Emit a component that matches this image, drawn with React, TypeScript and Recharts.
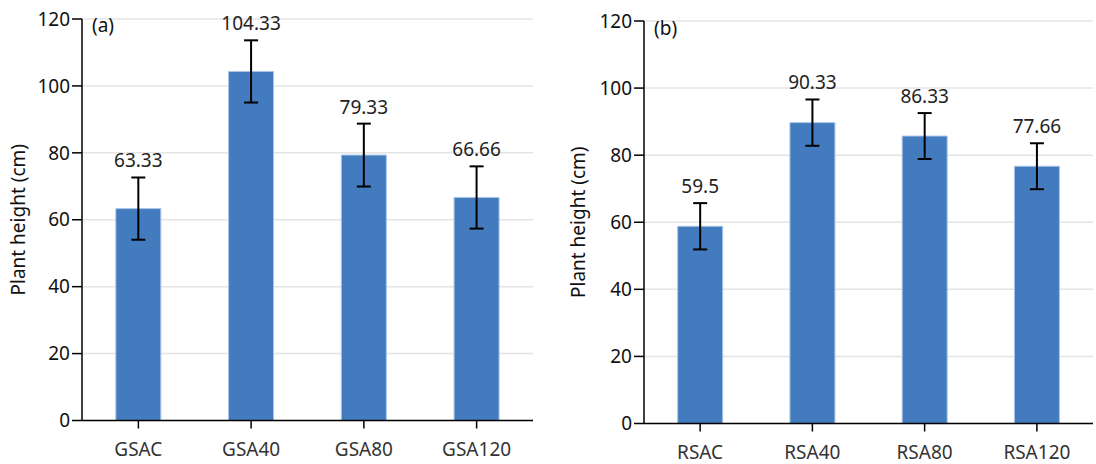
import React from 'react';
import { BarChart, Bar, XAxis, YAxis, CartesianGrid, ErrorBar, LabelList } from 'recharts';

const catsA = ['GSAC', 'GSA40', 'GSA80', 'GSA120'];
const valsA = [63.33, 104.33, 79.33, 66.66];
const errA = [9.3, 9.3, 9.4, 9.3];
const labelsA = ['63.33', '104.33', '79.33', '66.66'];

const catsB = ['RSAC', 'RSA40', 'RSA80', 'RSA120'];
const valsB = [58.8, 89.7, 85.7, 76.7];
const errB = [6.9, 6.9, 6.85, 6.85];
const labelsB = ['59.5', '90.33', '86.33', '77.66'];

const yTicks = [0, 20, 40, 60, 80, 100, 120];

const FONT = '"Noto Sans", "Open Sans", sans-serif';
const BAR = '#427cbf';
const FS = 19;

const build = (cats: string[], vals: number[], errs: number[], labels: string[]) =>
  cats.map((c, i) => ({ name: c, value: vals[i], err: errs[i], label: labels[i] }));

const dataA = build(catsA, valsA, errA, labelsA);
const dataB = build(catsB, valsB, errB, labelsB);

function makeLabel(data: any[]) {
  return (props: any) => {
    const { x, y, width, height, index } = props;
    const d = data[index];
    const ppu = height / d.value;
    const top = y - d.err * ppu;
    return (
      <text x={x + width / 2} y={top - 10} textAnchor="middle" fontSize={FS} fontFamily={FONT} fill="#222">
        {d.label}
      </text>
    );
  };
}

function Panel(props: { data: any[]; tag: string; left: number; yW: number; top: number; bottom: number; right: number; titleDx: number; tagX: number; tagY: number }) {
  const { data, tag, left, yW, top, bottom, right, titleDx, tagX, tagY } = props;
  return (
    <div style={{ position: 'absolute', left, top: 0 }}>
      <BarChart width={548} height={464} data={data} margin={{ top, right, bottom, left: 0 }} barCategoryGap="30%">
        <CartesianGrid vertical={false} stroke="#e4e4e4" strokeWidth={1.5} />
        <XAxis
          dataKey="name"
          height={30}
          axisLine={{ stroke: '#000', strokeWidth: 1.5 }}
          tickLine={{ stroke: '#000', strokeWidth: 1.5 }}
          tickSize={8}
          tick={{ fontSize: FS, fontFamily: FONT, fill: '#333', dy: 12 }}
        />
        <YAxis
          width={yW}
          domain={[0, 120]}
          ticks={yTicks}
          interval={0}
          axisLine={{ stroke: '#000', strokeWidth: 1.5 }}
          tickLine={{ stroke: '#000', strokeWidth: 1.5 }}
          tickSize={10}
          tick={{ fontSize: FS, fontFamily: FONT, fill: '#111' }}
          label={{ value: 'Plant height (cm)', angle: -90, position: 'center', dx: titleDx, style: { fontSize: FS, fontFamily: FONT, fill: '#111' } }}
        />
        <Bar dataKey="value" fill={BAR} stroke="#a9c4e6" strokeWidth={1} isAnimationActive={false}>
          <ErrorBar dataKey="err" width={7} stroke="#000" strokeWidth={2} direction="y" />
          <LabelList dataKey="label" content={makeLabel(data)} />
        </Bar>
        <text x={tagX} y={tagY} fontSize={FS} fontFamily={FONT} fill="#111">{tag}</text>
      </BarChart>
    </div>
  );
}

export default function App() {
  return (
    <div style={{ position: 'absolute', left: 0, top: 0, width: 1096, height: 464, background: '#fff' }}>
      <Panel data={dataA} tag="(a)" left={0} yW={82} top={19} bottom={13.5} right={15} titleDx={-23} tagX={92} tagY={32} />
      <Panel data={dataB} tag="(b)" left={548} yW={96} top={21} bottom={10.5} right={3} titleDx={-18} tagX={106} tagY={35} />
    </div>
  );
}
